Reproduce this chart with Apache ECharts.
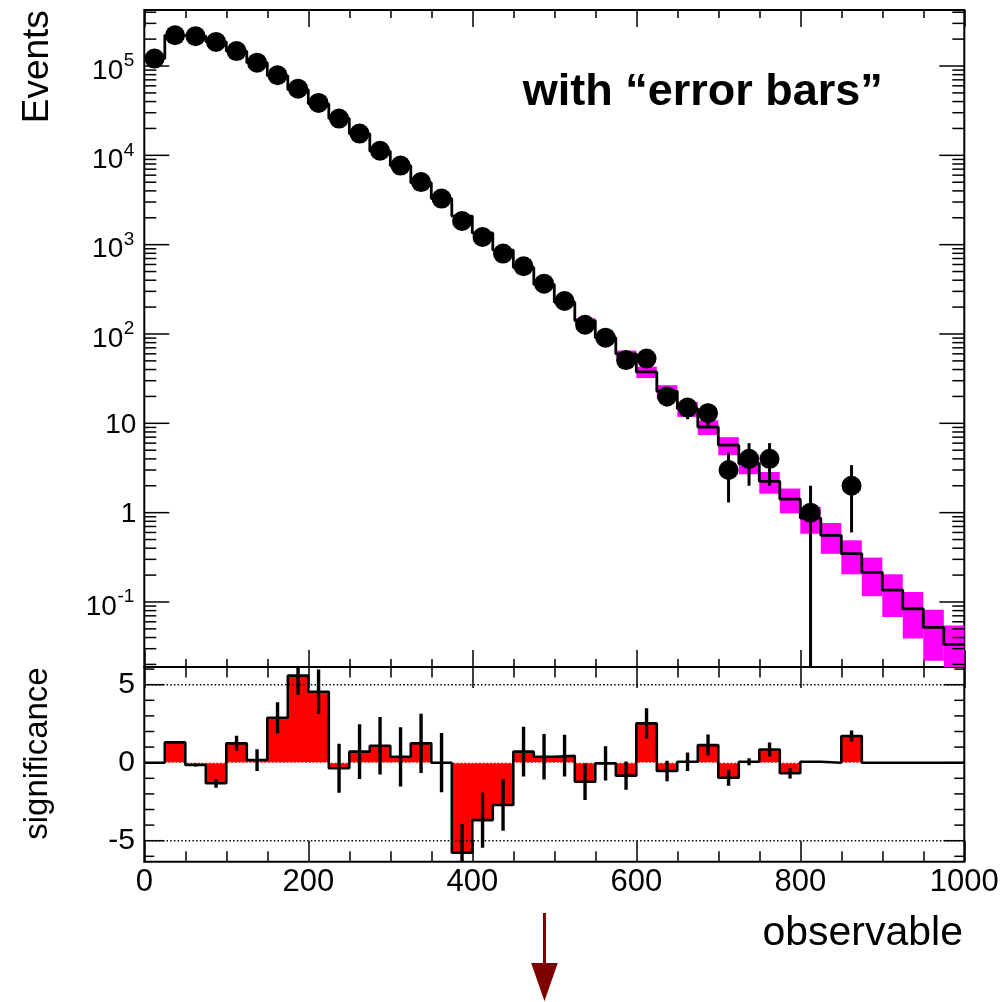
<!DOCTYPE html>
<html><head><meta charset="utf-8">
<script src="https://cdn.jsdelivr.net/npm/echarts@6/dist/echarts.min.js"></script>
<style>html,body{margin:0;padding:0;background:#fff}#chart{width:1002px;height:1002px}</style>
</head><body><div id="chart"></div>
<script>
// ---------------- data ----------------
const binEdges = [0,25,50,75,100,125,150,175,200,225,250,275,300,325,350,375,400,425,450,475,500,525,550,575,600,625,650,675,700,725,750,775,800,825,850,875,900,925,950,975,1000];
const dataCounts = [121000,221000,216000,186000,147000,109000,78700,55800,38600,25800,17500,11250,7680,5020,3280,1840,1220,794,573,366,234,127,91,51,53,20,15,13,3,4,4,0,1,0,2,0,0,0,0,0];
const dataErrors = [348,470,465,431,383,330,281,236,196,161,132,106,88,71,57,43,35,28,24,19,15,11,9.5,7.1,7.3,4.5,3.9,3.6,1.7,2,2,0,1,0,1.4,0,0,0,0,0];
const mcValues = [121000,220400,216100,186600,146500,108900,77900,54500,37700,25860,17410,11130,7650,4930,3280,2090,1350,870,556,359,227,141,91,60,37.6,22.8,14.6,9.1,5.7,3.54,2.24,1.42,0.87,0.556,0.347,0.215,0.136,0.084,0.052,0.0336];
const mcErrors = [1200,2200,2200,1900,1500,1100,800,550,380,260,180,120,85,60,45,35,28,22,18,14,12,9,7,5.2,5.5,3.9,2.8,1.7,1.3,0.85,0.61,0.44,0.29,0.21,0.143,0.099,0.068,0.045,0.030,0.021];
const significance = [0,1.30,-0.15,-1.32,1.24,0.17,2.88,5.58,4.55,-0.36,0.71,1.09,0.38,1.24,0,-5.77,-3.68,-2.71,0.71,0.38,0.45,-1.22,-0.04,-0.83,2.52,-0.53,0.06,1.13,-0.96,0.06,0.85,-0.68,0.06,0,1.71,0,0,0,0,0];
const significanceErrors = [0,0,0.1,0.28,0.48,0.7,1.0,1.24,1.42,1.57,1.75,1.84,1.9,1.9,1.9,1.84,1.77,1.65,1.6,1.46,1.34,1.17,1.1,0.9,0.97,0.66,0.59,0.67,0.51,0.22,0.45,0.33,0.05,0,0.35,0,0,0,0,0];
const upperTickValues = [0.1,1,10,100,1000,10000,100000];
const upperTickBase = ['10','1','10','10','10','10','10'];
const upperTickExp = ['-1','','','2','3','4','5'];
const upperMinorMultipliers = [2,3,4,5,6,7,8,9];
const upperDecades = [0.01,0.1,1,10,100,1000,10000,100000];
const lowerTickValues = [-5,0,5];
const lowerTickLabels = ['-5','0','5'];
const lowerMinorValues = [-6,-4,-3,-2,-1,1,2,3,4,6];
const refLines = [-5,5];
const arrowX = 488;
const titleText = 'with \u201Cerror bars\u201D';
const xTitle = 'observable';
const yTitleUpper = 'Events';
const yTitleLower = 'significance';

// --------------- layout / style ---------------
const FONT = '"Liberation Sans", Arial, Helvetica, sans-serif';
const X_MIN = 0, X_MAX = 1000;
const UP_MIN = 0.01871, UP_MAX = 423600;
const LO_MIN = -6.346, LO_MAX = 6.135;
const GL = 144.3, GR = 1002 - 964.3;

const mctx = document.createElement('canvas').getContext('2d');
function tw(t, size){ mctx.font = size + 'px ' + FONT; return mctx.measureText(t).width; }

const nb = dataCounts.length;
const bandData = [], upperStep = [], dataPts = [], dataErrItems = [];
const sigStep = [], sigErrItems = [];
for (let i = 0; i < nb; i++) {
  const lo = binEdges[i], hi = binEdges[i+1], c = (lo + hi) / 2;
  bandData.push([lo, hi, mcValues[i], mcErrors[i]]);
  upperStep.push([lo, mcValues[i]]);
  sigStep.push([lo, significance[i]]);
  if (dataCounts[i] > 0) {
    dataPts.push([c, dataCounts[i]]);
    dataErrItems.push([c, dataCounts[i], dataErrors[i]]);
  }
  if (significanceErrors[i] > 0) sigErrItems.push([c, significance[i], significanceErrors[i]]);
}
upperStep.push([binEdges[nb], mcValues[nb-1]]);
sigStep.push([binEdges[nb], significance[nb-1]]);

const upperTicks = [];
upperTickValues.forEach(v => upperTicks.push([0, v, 1]));
upperDecades.forEach(d => upperMinorMultipliers.forEach(m => {
  const v = d * m; if (v > UP_MIN && v < UP_MAX) upperTicks.push([0, v, 0]);
}));
const lowerTicks = [];
lowerTickValues.forEach(v => lowerTicks.push([0, v, 1]));
lowerMinorValues.forEach(v => lowerTicks.push([0, v, 0]));

function xAxisCfg(gridIndex, position, majorLen, minorLen, showLabels) {
  return {
    type: 'value', gridIndex, position, min: X_MIN, max: X_MAX, interval: 200,
    axisLine: { show: false, onZero: false },
    splitLine: { show: false },
    axisTick: { show: true, inside: true, length: majorLen, lineStyle: { color: '#000', width: 1.5 } },
    minorTick: { show: true, splitNumber: 4, length: minorLen, lineStyle: { color: '#000', width: 1.5 } },
    axisLabel: { show: showLabels, fontSize: 31, fontFamily: FONT, color: '#000', margin: 5,
      formatter: function (v) { return String(Math.round(v)); } }
  };
}

function tickRender(major, minor) {
  return function (params, api) {
    const cs = params.coordSys;
    const y = api.coord([X_MIN, api.value(1)])[1];
    const L = api.value(2) ? major : minor;
    const st = { stroke: '#000', lineWidth: 1.5 };
    return { type: 'group', children: [
      { type: 'line', shape: { x1: cs.x, y1: y, x2: cs.x + L, y2: y }, style: st },
      { type: 'line', shape: { x1: cs.x + cs.width, y1: y, x2: cs.x + cs.width - L, y2: y }, style: st }
    ]};
  };
}

const option = {
  animation: false,
  backgroundColor: '#fff',
  textStyle: { fontFamily: FONT },
  grid: [
    { left: GL, right: GR, top: 10, height: 657, show: true, borderColor: '#000', borderWidth: 2, backgroundColor: 'transparent' },
    { left: GL, right: GR, top: 667, height: 194.7, show: true, borderColor: '#000', borderWidth: 2, backgroundColor: 'transparent' }
  ],
  xAxis: [
    xAxisCfg(0, 'bottom', 17, 8, false),
    xAxisCfg(0, 'top', 17, 8, false),
    xAxisCfg(1, 'bottom', 21, 10.5, true),
    xAxisCfg(1, 'top', 21, 10.5, false)
  ],
  yAxis: [
    { type: 'log', logBase: 10, gridIndex: 0, min: UP_MIN, max: UP_MAX,
      axisLine: { show: false, onZero: false }, axisTick: { show: false }, axisLabel: { show: false }, splitLine: { show: false } },
    { type: 'value', gridIndex: 1, min: LO_MIN, max: LO_MAX,
      axisLine: { show: false, onZero: false }, axisTick: { show: false }, axisLabel: { show: false }, splitLine: { show: false } }
  ],
  series: [
    // ---- upper panel ----
    { type: 'custom', name: 'MC uncertainty', xAxisIndex: 0, yAxisIndex: 0, clip: true, z: 1, silent: true,
      encode: { x: [0, 1], y: 2 }, data: bandData,
      renderItem: function (params, api) {
        const lo = api.value(0), hi = api.value(1), m = api.value(2), e = api.value(3);
        const p1 = api.coord([lo, m + e]);
        const p2 = api.coord([hi, Math.max(m - e, 1e-6)]);
        return { type: 'rect', shape: { x: p1[0], y: p1[1], width: p2[0] - p1[0], height: p2[1] - p1[1] }, style: { fill: '#ff00ff' } };
      } },
    { type: 'line', name: 'MC', xAxisIndex: 0, yAxisIndex: 0, step: 'end', data: upperStep, symbol: 'none', z: 2, silent: true,
      lineStyle: { color: '#000', width: 2.8 } },
    { type: 'custom', name: 'data errors', xAxisIndex: 0, yAxisIndex: 0, clip: true, z: 3, silent: true,
      data: dataErrItems,
      renderItem: function (params, api) {
        const x = api.value(0), v = api.value(1), e = api.value(2);
        const t = api.coord([x, v + e]);
        const b = api.coord([x, Math.max(v - e, 1e-6)]);
        return { type: 'line', shape: { x1: t[0], y1: t[1], x2: b[0], y2: b[1] }, style: { stroke: '#000', lineWidth: 3 } };
      } },
    { type: 'scatter', name: 'data', xAxisIndex: 0, yAxisIndex: 0, data: dataPts, symbol: 'circle', symbolSize: 20, z: 4, silent: true,
      itemStyle: { color: '#000', opacity: 1 } },
    { type: 'custom', name: 'upper ticks', xAxisIndex: 0, yAxisIndex: 0, clip: false, z: 6, silent: true,
      data: upperTicks, renderItem: tickRender(25, 12) },
    { type: 'custom', name: 'upper labels', xAxisIndex: 0, yAxisIndex: 0, clip: false, z: 6, silent: true,
      data: upperTickValues.map((v, i) => [0, v, i]),
      renderItem: function (params, api) {
        const cs = params.coordSys;
        const v = api.value(1), i = api.value(2);
        const y = api.coord([X_MIN, v])[1];
        const base = upperTickBase[i], exp = upperTickExp[i];
        const ts = { fontSize: 28, fontFamily: FONT, fill: '#000', verticalAlign: 'middle' };
        if (exp) {
          const xr = cs.x - 10.5;
          const sw = tw(exp, 19);
          return { type: 'group', children: [
            { type: 'text', x: xr - sw, y: y + 5, style: Object.assign({ text: base, align: 'right' }, ts) },
            { type: 'text', x: xr - sw + 0.5, y: y - 5, style: { text: exp, fontSize: 19, fontFamily: FONT, fill: '#000', align: 'left', verticalAlign: 'middle' } }
          ]};
        }
        return { type: 'text', x: cs.x - 8, y: y + 2, style: Object.assign({ text: base, align: 'right' }, ts) };
      } },
    // ---- lower panel ----
    { type: 'line', name: 'significance fill', xAxisIndex: 2, yAxisIndex: 1, step: 'end', data: sigStep, symbol: 'none', z: 1, silent: true,
      lineStyle: { opacity: 0, width: 0 }, areaStyle: { color: '#ff0000', opacity: 1, origin: 'auto' } },
    { type: 'custom', name: 'reference lines', xAxisIndex: 2, yAxisIndex: 1, clip: true, z: 2, silent: true,
      data: refLines.map(v => [X_MIN, v, 0]).concat([[X_MIN, 0, 1]]),
      renderItem: function (params, api) {
        const v = api.value(1), white = api.value(2) === 1;
        const a = api.coord([X_MIN, v]), b = api.coord([X_MAX, v]);
        return { type: 'line', shape: { x1: a[0], y1: a[1], x2: b[0], y2: b[1] },
          style: { stroke: white ? '#ffffff' : '#000', lineWidth: 1.5, lineDash: [1.5, 2.2] } };
      } },
    { type: 'line', name: 'significance', xAxisIndex: 2, yAxisIndex: 1, step: 'end', data: sigStep, symbol: 'none', z: 3, silent: true,
      lineStyle: { color: '#000', width: 2.6 } },
    { type: 'custom', name: 'significance errors', xAxisIndex: 2, yAxisIndex: 1, clip: true, z: 4, silent: true,
      data: sigErrItems,
      renderItem: function (params, api) {
        const x = api.value(0), v = api.value(1), e = api.value(2);
        const t = api.coord([x, v + e]), b = api.coord([x, v - e]);
        return { type: 'line', shape: { x1: t[0], y1: t[1], x2: b[0], y2: b[1] }, style: { stroke: '#000', lineWidth: 3.4 } };
      } },
    { type: 'custom', name: 'lower ticks', xAxisIndex: 2, yAxisIndex: 1, clip: false, z: 6, silent: true,
      data: lowerTicks, renderItem: tickRender(20, 10) },
    { type: 'custom', name: 'lower labels', xAxisIndex: 2, yAxisIndex: 1, clip: false, z: 6, silent: true,
      data: lowerTickValues.map((v, i) => [0, v, i]),
      renderItem: function (params, api) {
        const cs = params.coordSys;
        const y = api.coord([X_MIN, api.value(1)])[1];
        return { type: 'text', x: cs.x - 9.3, y: y,
          style: { text: lowerTickLabels[api.value(2)], fontSize: 30, fontFamily: FONT, fill: '#000', align: 'right', verticalAlign: 'middle' } };
      } },
    { type: 'custom', name: 'arrow', xAxisIndex: 2, yAxisIndex: 1, clip: false, z: 6, silent: true,
      data: [[arrowX, LO_MIN]],
      renderItem: function (params, api) {
        const p = api.coord([api.value(0), api.value(1)]);
        const col = '#7f0000';
        return { type: 'group', children: [
          { type: 'line', shape: { x1: p[0], y1: p[1] + 51.3, x2: p[0], y2: p[1] + 102 }, style: { stroke: col, lineWidth: 3 } },
          { type: 'polygon', shape: { points: [[p[0] - 13.3, p[1] + 101.3], [p[0] + 13.3, p[1] + 101.3], [p[0], p[1] + 139.5]] }, style: { fill: col } }
        ]};
      } }
  ],
  graphic: [
    { type: 'text', x: 522.7, y: 92.7, silent: true,
      style: { text: titleText, fontSize: 45, fontWeight: 'bold', fontFamily: FONT, fill: '#000', align: 'left', verticalAlign: 'middle' } },
    { type: 'text', x: 37.9, y: 66.7, rotation: Math.PI / 2, silent: true,
      style: { text: yTitleUpper, fontSize: 37, fontFamily: FONT, fill: '#000', align: 'center', verticalAlign: 'middle' } },
    { type: 'text', x: 37.5, y: 753.5, rotation: Math.PI / 2, silent: true,
      style: { text: yTitleLower, fontSize: 33, fontFamily: FONT, fill: '#000', align: 'center', verticalAlign: 'middle' } },
    { type: 'text', x: 963, y: 933.8, silent: true,
      style: { text: xTitle, fontSize: 41, fontFamily: FONT, fill: '#000', align: 'right', verticalAlign: 'middle' } }
  ]
};

const chart = echarts.init(document.getElementById('chart'), null, { renderer: 'canvas', width: 1002, height: 1002 });
chart.setOption(option);
</script>
</body></html>
